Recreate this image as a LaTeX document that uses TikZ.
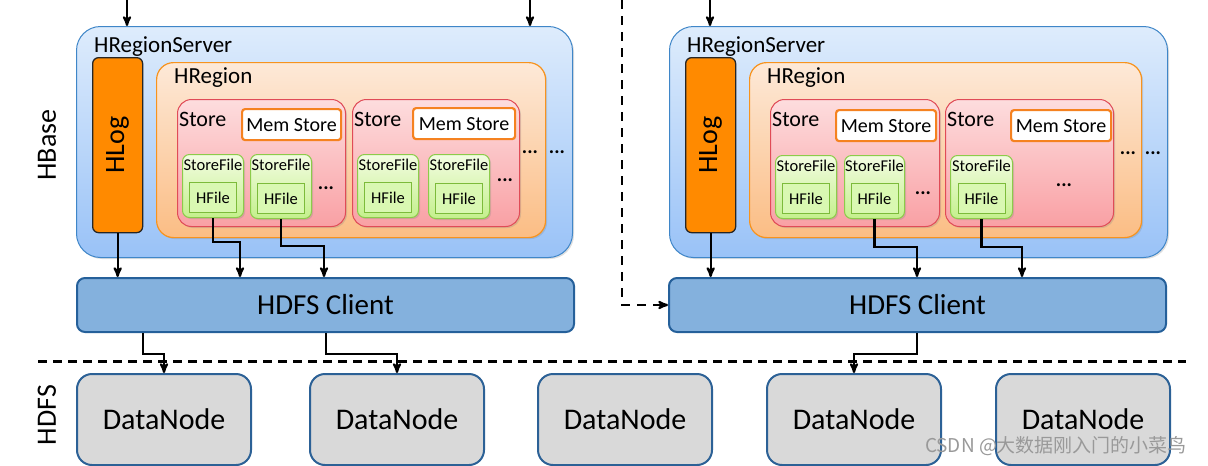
\documentclass[tikz,border=0pt]{standalone}
\usepackage{fontspec}
\setmainfont{Carlito}
\newfontfamily\cjkfont{Noto Sans CJK SC}
\usepackage{tikz}
\usetikzlibrary{arrows,shadows}
\definecolor{srvborder}{HTML}{3F86C8}
\definecolor{srvtop}{HTML}{DEECFC}
\definecolor{srvbot}{HTML}{99C2F7}
\definecolor{logorange}{HTML}{FF8A00}
\definecolor{regborder}{HTML}{F7931E}
\definecolor{regtop}{HTML}{FDE9D8}
\definecolor{regbot}{HTML}{FBBD84}
\definecolor{storeborder}{HTML}{E04B57}
\definecolor{storetop}{HTML}{FDDDDE}
\definecolor{storebot}{HTML}{F9A0A4}
\definecolor{memorange}{HTML}{F58220}
\definecolor{sfborder}{HTML}{8CCB4A}
\definecolor{sftop}{HTML}{F3FCE2}
\definecolor{sfbot}{HTML}{C4F08C}
\definecolor{hfborder}{HTML}{7CBB3A}
\definecolor{hffill}{HTML}{D9F8B2}
\definecolor{clientfill}{HTML}{84B1DD}
\definecolor{clientborder}{HTML}{25609A}
\definecolor{dngray}{HTML}{D9D9D9}
\definecolor{dnborder}{HTML}{2C6196}

\begin{document}
\begin{tikzpicture}[x=1pt,y=-1pt,>=stealth',
  nw/.style={anchor=north west,inner sep=0pt},
  soft shadow/.style={drop shadow={opacity=0.25,shadow xshift=1.5pt,shadow yshift=-1.5pt}},
  server node/.style={nw,draw=srvborder,line width=1pt,rounded corners=24pt,top color=srvtop,bottom color=srvbot,soft shadow},
  log node/.style={nw,draw=black!85,line width=1.3pt,fill=logorange,rounded corners=6pt},
  region node/.style={nw,draw=regborder,line width=1.2pt,rounded corners=17pt,top color=regtop,bottom color=regbot,soft shadow},
  store node/.style={nw,draw=storeborder,line width=1pt,rounded corners=14pt,top color=storetop,bottom color=storebot,soft shadow},
  mem node/.style={nw,draw=memorange,line width=2.2pt,fill=white,rounded corners=3pt,font=\fontsize{20pt}{22pt}\selectfont},
  file node/.style={nw,draw=sfborder,line width=1pt,rounded corners=7pt,top color=sftop,bottom color=sfbot,soft shadow},
  hfile node/.style={draw=hfborder,line width=0.8pt,fill=hffill,inner sep=0pt,minimum width=47pt,minimum height=30pt,font=\fontsize{16.5pt}{18pt}\selectfont},
  client node/.style={nw,draw=clientborder,line width=2pt,fill=clientfill,rounded corners=8pt,minimum height=54pt,font=\fontsize{29pt}{31pt}\selectfont},
  data node/.style={nw,draw=dnborder,line width=2pt,fill=dngray,rounded corners=15pt,minimum width=174pt,minimum height=91pt,font=\fontsize{30pt}{32pt}\selectfont},
  title/.style={anchor=west,inner sep=0pt,font=\fontsize{23pt}{25pt}\selectfont},
  store title/.style={anchor=west,inner sep=0pt,font=\fontsize{22pt}{24pt}\selectfont},
  file title/.style={inner sep=0pt,font=\fontsize{16.5pt}{18pt}\selectfont},
  side label/.style={rotate=90,inner sep=0pt,font=\fontsize{28pt}{30pt}\selectfont},
  dots/.style={inner sep=0pt,font=\fontsize{20pt}{22pt}\selectfont\bfseries},
  wire/.style={->,line width=2.2pt},
  dash wire/.style={->,line width=2.2pt,dash pattern=on 9pt off 7pt},
  sep line/.style={line width=3pt,dash pattern=on 9pt off 6pt},
  watermark/.style={inner sep=0pt,text=black!40,font=\fontsize{19pt}{21pt}\cjkfont}]
  \useasboundingbox (0,0) rectangle (1208,466);

  \node[side label] (hbase) at (47,145) {HBase};
  \node[side label] (hdfs) at (47,415) {HDFS};

  % left region server
  \node[server node, minimum width=496pt, minimum height=231pt] (srv1) at (76,26) {};
  \node[title] (srv1t) at (94,47) {HRegionServer};
  \node[log node, minimum width=50pt, minimum height=175pt] (log1) at (92,57) {};
  \node[side label] (log1t) at (log1.center) {HLog};
  \node[region node, minimum width=389pt, minimum height=175pt] (reg1) at (156,62) {};
  \node[title] (reg1t) at (174,78) {HRegion};

  \node[store node, minimum width=168pt, minimum height=127pt] (st11) at (177,99) {};
  \node[store title] (st11t) at (179,119) {Store};
  \node[mem node, minimum width=99pt, minimum height=31pt] (mem11) at (241,108) {Mem Store};
  \node[file node, minimum width=61pt, minimum height=63pt] (sf111) at (182,154) {};
  \node[file title, below=5pt] (sf111t) at (sf111.north) {StoreFile};
  \node[hfile node, above=5pt] (hf111) at (sf111.south) {HFile};
  \node[file node, minimum width=61pt, minimum height=64pt] (sf112) at (250,154) {};
  \node[file title, below=5pt] (sf112t) at (sf112.north) {StoreFile};
  \node[hfile node, above=5pt] (hf112) at (sf112.south) {HFile};
  \node[dots] (dt11) at (326,188) {...};

  \node[store node, minimum width=167pt, minimum height=127pt] (st12) at (352,99) {};
  \node[store title] (st12t) at (354,119) {Store};
  \node[mem node, minimum width=102pt, minimum height=31pt] (mem12) at (412,107) {Mem Store};
  \node[file node, minimum width=61pt, minimum height=63pt] (sf121) at (357,154) {};
  \node[file title, below=5pt] (sf121t) at (sf121.north) {StoreFile};
  \node[hfile node, above=5pt] (hf121) at (sf121.south) {HFile};
  \node[file node, minimum width=61pt, minimum height=64pt] (sf122) at (428,154) {};
  \node[file title, below=5pt] (sf122t) at (sf122.north) {StoreFile};
  \node[hfile node, above=5pt] (hf122) at (sf122.south) {HFile};
  \node[dots] (dt12) at (505,180) {...};
  \node[dots] (dt13) at (530,152) {...};
  \node[dots] (dt14) at (557,152) {...};

  % right region server
  \node[server node, minimum width=498pt, minimum height=231pt] (srv2) at (669,26) {};
  \node[title] (srv2t) at (687,47) {HRegionServer};
  \node[log node, minimum width=50pt, minimum height=175pt] (log2) at (685,57) {};
  \node[side label] (log2t) at (log2.center) {HLog};
  \node[region node, minimum width=392pt, minimum height=175pt] (reg2) at (749,62) {};
  \node[title] (reg2t) at (767,78) {HRegion};

  \node[store node, minimum width=169pt, minimum height=127pt] (st21) at (770,99) {};
  \node[store title] (st21t) at (772,119) {Store};
  \node[mem node, minimum width=100pt, minimum height=31pt] (mem21) at (835,109) {Mem Store};
  \node[file node, minimum width=61pt, minimum height=63pt] (sf211) at (775,155) {};
  \node[file title, below=5pt] (sf211t) at (sf211.north) {StoreFile};
  \node[hfile node, above=5pt] (hf211) at (sf211.south) {HFile};
  \node[file node, minimum width=60pt, minimum height=63pt] (sf212) at (844,155) {};
  \node[file title, below=5pt] (sf212t) at (sf212.north) {StoreFile};
  \node[hfile node, above=5pt] (hf212) at (sf212.south) {HFile};
  \node[dots] (dt21) at (923,193) {...};

  \node[store node, minimum width=168pt, minimum height=127pt] (st22) at (945,99) {};
  \node[store title] (st22t) at (947,119) {Store};
  \node[mem node, minimum width=100pt, minimum height=31pt] (mem22) at (1010,109) {Mem Store};
  \node[file node, minimum width=62pt, minimum height=63pt] (sf221) at (950,155) {};
  \node[file title, below=5pt] (sf221t) at (sf221.north) {StoreFile};
  \node[hfile node, above=5pt] (hf221) at (sf221.south) {HFile};
  \node[dots] (dt22) at (1064,185) {...};
  \node[dots] (dt23) at (1128,153) {...};
  \node[dots] (dt24) at (1153,153) {...};

  % hdfs clients and datanodes
  \node[client node, minimum width=497pt] (cl1) at (76,277) {HDFS Client};
  \node[client node, minimum width=497pt] (cl2) at (668,277) {HDFS Client};
  \foreach \x/\n in {76/1,309/2,537/3,766/4,995/5}
    \node[data node] (dn\n) at (\x,373) {DataNode};

  \coordinate (sepL) at (38,361);
  \coordinate (sepR) at (1186,361);
  \draw[sep line] (sepL) -- (sepR);

  % connectors
  \coordinate (in1) at (127,0);
  \coordinate (in2) at (530,0);
  \coordinate (in3) at (710,0);
  \coordinate (in4) at (622,0);
  \draw[wire] (in1) -- (in1 |- srv1.north);
  \draw[wire] (in2) -- (in2 |- srv1.north);
  \draw[wire] (in3) -- (in3 |- srv2.north);
  \draw[dash wire] (in4) |- (cl2.west);

  \draw[wire] (log1.south) -- (log1.south |- cl1.north);
  \draw[wire] (sf111.south) -- ++(0,24) -| ([xshift=164pt]cl1.north west);
  \draw[wire] (sf112.south) -- ++(0,27) -| ([xshift=248pt]cl1.north west);
  \draw[wire] (log2.south) -- (log2.south |- cl2.north);
  \draw[wire] (sf212.south) -- ++(0,28) -| ([xshift=249pt]cl2.north west);
  \draw[wire] (sf221.south) -- ++(0,28) -| ([xshift=354pt]cl2.north west);

  \draw[wire] ([xshift=67pt]cl1.south west) -- ++(0,21) -| (dn1.north);
  \draw[wire] ([xshift=250pt]cl1.south west) -- ++(0,21) -| (dn2.north);
  \draw[wire] ([xshift=249pt]cl2.south west) -- ++(0,21) -| (dn4.north);

  \node[watermark] (wm) at (1056,446) {CSDN @大数据刚入门的小菜鸟};
\end{tikzpicture}
\end{document}
